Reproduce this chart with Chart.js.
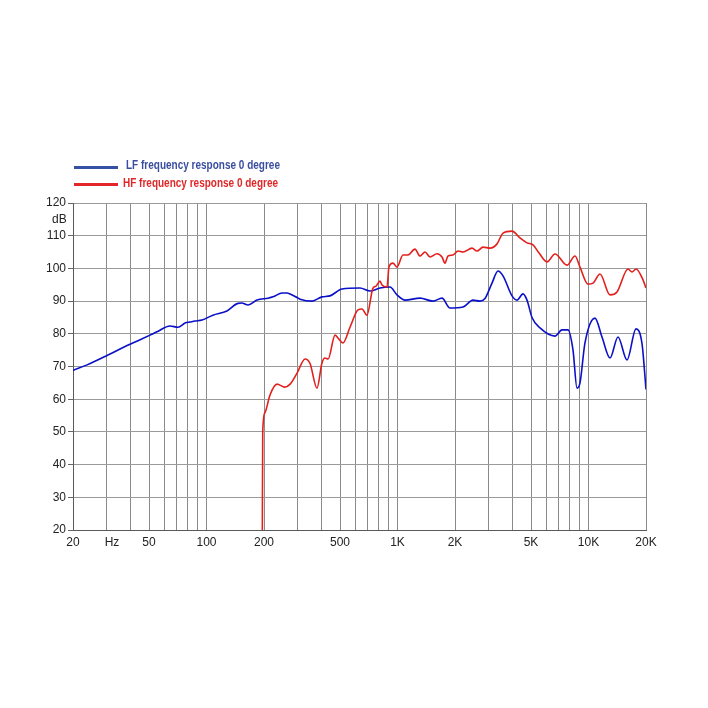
<!DOCTYPE html>
<html>
<head>
<meta charset="utf-8">
<script src="https://cdn.jsdelivr.net/npm/chart.js@4"></script>
<style>
  html,body{margin:0;padding:0;background:#fff;}
  #wrap{position:relative;width:708px;height:708px;}
  #c{position:absolute;left:0;top:0;}
  .lg{position:absolute;font-family:"Liberation Sans",Arial,sans-serif;font-weight:bold;font-size:12.5px;white-space:nowrap;line-height:14px;transform:scaleX(0.8);transform-origin:0 50%;}
  .sw{position:absolute;height:3px;width:44px;}
  #db{position:absolute;font-family:"Liberation Sans",Arial,sans-serif;font-size:12px;color:#222;left:52px;top:212px;}
</style>
</head>
<body>
<div id="wrap">
  <canvas id="c" width="708" height="708"></canvas>
  <div class="sw" style="left:74px;top:166px;background:#3551a6;"></div>
  <div class="lg" style="left:126px;top:158px;color:#3a4ea0;">LF frequency response 0 degree</div>
  <div class="sw" style="left:74px;top:183px;background:#e2262a;"></div>
  <div class="lg" style="left:123px;top:176px;color:#e0282a;">HF frequency response 0 degree</div>
  <div id="db">dB</div>
</div>
<script>
// ---- data ----
const lfFreq = [20,23.7,30,38.4,44.9,50.6,55,64.4,70.9,77.2,82,87,94.7,108,128,146,153,165,184,210,223,249,264,274,298,309,357,402,443,512,636,718,810,914,994,1095,1312,1534,1710,1882,2203,2485,2700,2871,3124,3358,3568,3977,4224,4540,4764,5060,5572,6678,7266,7810,8296,8706,9026,9584,10816,11768,12960,14270,15908,17730,19060,20000];
const lfDb   = [68.8,70.5,73.3,76.4,78.2,79.6,80.6,82.4,82.0,83.3,83.6,83.9,84.2,85.7,87.0,89.3,89.4,88.8,90.3,90.9,91.3,92.5,92.5,92.2,91.1,90.6,90.0,91.3,91.6,93.7,94.0,93.1,94.0,94.3,91.9,90.3,90.9,90.0,90.9,87.9,88.2,90.3,90.0,90.8,95.5,99.2,97.7,91.6,90.3,92.2,90.3,85.0,81.8,79.3,81.2,81.2,75.0,63.4,65.0,77.2,84.8,79.0,72.6,79.0,72.0,81.5,77.0,63.0];

const hfFreq = [196,197,202,215,234,257,274,298,328,348,379,402,417,433,471,488,518,564,621,652,692,744,772,810,830,881,902,947,994,1068,1135,1234,1312,1393,1480,1610,1710,1772,1838,1952,2074,2203,2455,2608,2803,3050,3320,3568,3977,4378,4764,5122,5508,6064,6678,7718,8498,9026,9940,10560,11488,12960,14100,16100,16900,17730,19290,20000];
const hfDb   = [20,50,55.8,61.3,64.6,63.7,64.6,68.0,72.3,71.0,63.4,71.0,72.6,72.3,79.6,78.7,77.2,82.0,87.3,87.6,85.7,94.0,94.6,96.1,94.9,94.3,100.4,101.6,100.4,104.1,104.1,105.9,103.8,105.0,103.5,104.5,103.5,101.6,103.8,104.1,105.3,105.0,106.2,105.3,106.5,106.2,107.5,110.8,111.4,109.3,107.8,107.2,104.7,102.0,104.4,101.0,103.8,100.4,95.2,95.5,98.3,91.9,92.8,99.8,98.9,99.8,96.5,94.0];

const xGrid = [20,30,40,50,60,70,80,90,100,200,300,400,500,600,700,800,900,1000,2000,3000,4000,5000,6000,7000,8000,9000,10000,20000];
const xLabelAt = [20,32,50,100,200,500,1000,2000,5000,10000,20000];
const xLabels  = ['20','Hz','50','100','200','500','1K','2K','5K','10K','20K'];
const yMin = 20, yMax = 120, yStep = 10;

const toPts = (f, d) => f.map((v, i) => ({x: v, y: d[i]}));
const tickVals = [...new Set(xGrid.concat(xLabelAt))].sort((a,b)=>a-b);

new Chart(document.getElementById('c'), {
  type: 'line',
  data: {
    datasets: [
      {label:'HF', data: toPts(hfFreq, hfDb), borderColor:'#e3201c', borderWidth:1.6, pointRadius:0, cubicInterpolationMode:'monotone', fill:false},
      {label:'LF', data: toPts(lfFreq, lfDb), borderColor:'#0a10c8', borderWidth:1.6, pointRadius:0, cubicInterpolationMode:'monotone', fill:false}
    ]
  },
  options: {
    responsive:false, animation:false, devicePixelRatio:1,
    layout:{padding:{left:0, top:203, right:62, bottom:148}},
    plugins:{legend:{display:false}, tooltip:{enabled:false}},
    scales:{
      x:{
        type:'logarithmic', min:20, max:20000,
        afterBuildTicks: s => { s.ticks = tickVals.map(v => ({value:v})); },
        afterFit: s => { s.height = 30; },
        ticks:{
          autoSkip:false, maxRotation:0, minRotation:0, padding:5,
          color:'#222', font:{family:'"Liberation Sans", Arial, sans-serif', size:12},
          callback: v => { const i = xLabelAt.indexOf(v); return i >= 0 ? xLabels[i] : ''; }
        },
        grid:{
          drawTicks:false,
          color: c => (c.tick && xGrid.indexOf(c.tick.value) < 0) ? 'rgba(0,0,0,0)' : '#8a8a8a',
          lineWidth:1
        },
        border:{display:true, color:'#5a5a5a', width:1}
      },
      y:{
        min:yMin, max:yMax,
        afterFit: s => { s.width = 73; },
        ticks:{stepSize:yStep, padding:2, color:'#222', font:{family:'"Liberation Sans", Arial, sans-serif', size:12}},
        grid:{color:'#9a9a9a', lineWidth:1, drawTicks:true, tickLength:5, tickColor:'#666'},
        border:{display:true, color:'#5a5a5a', width:1}
      }
    }
  }
});
</script>
</body>
</html>
